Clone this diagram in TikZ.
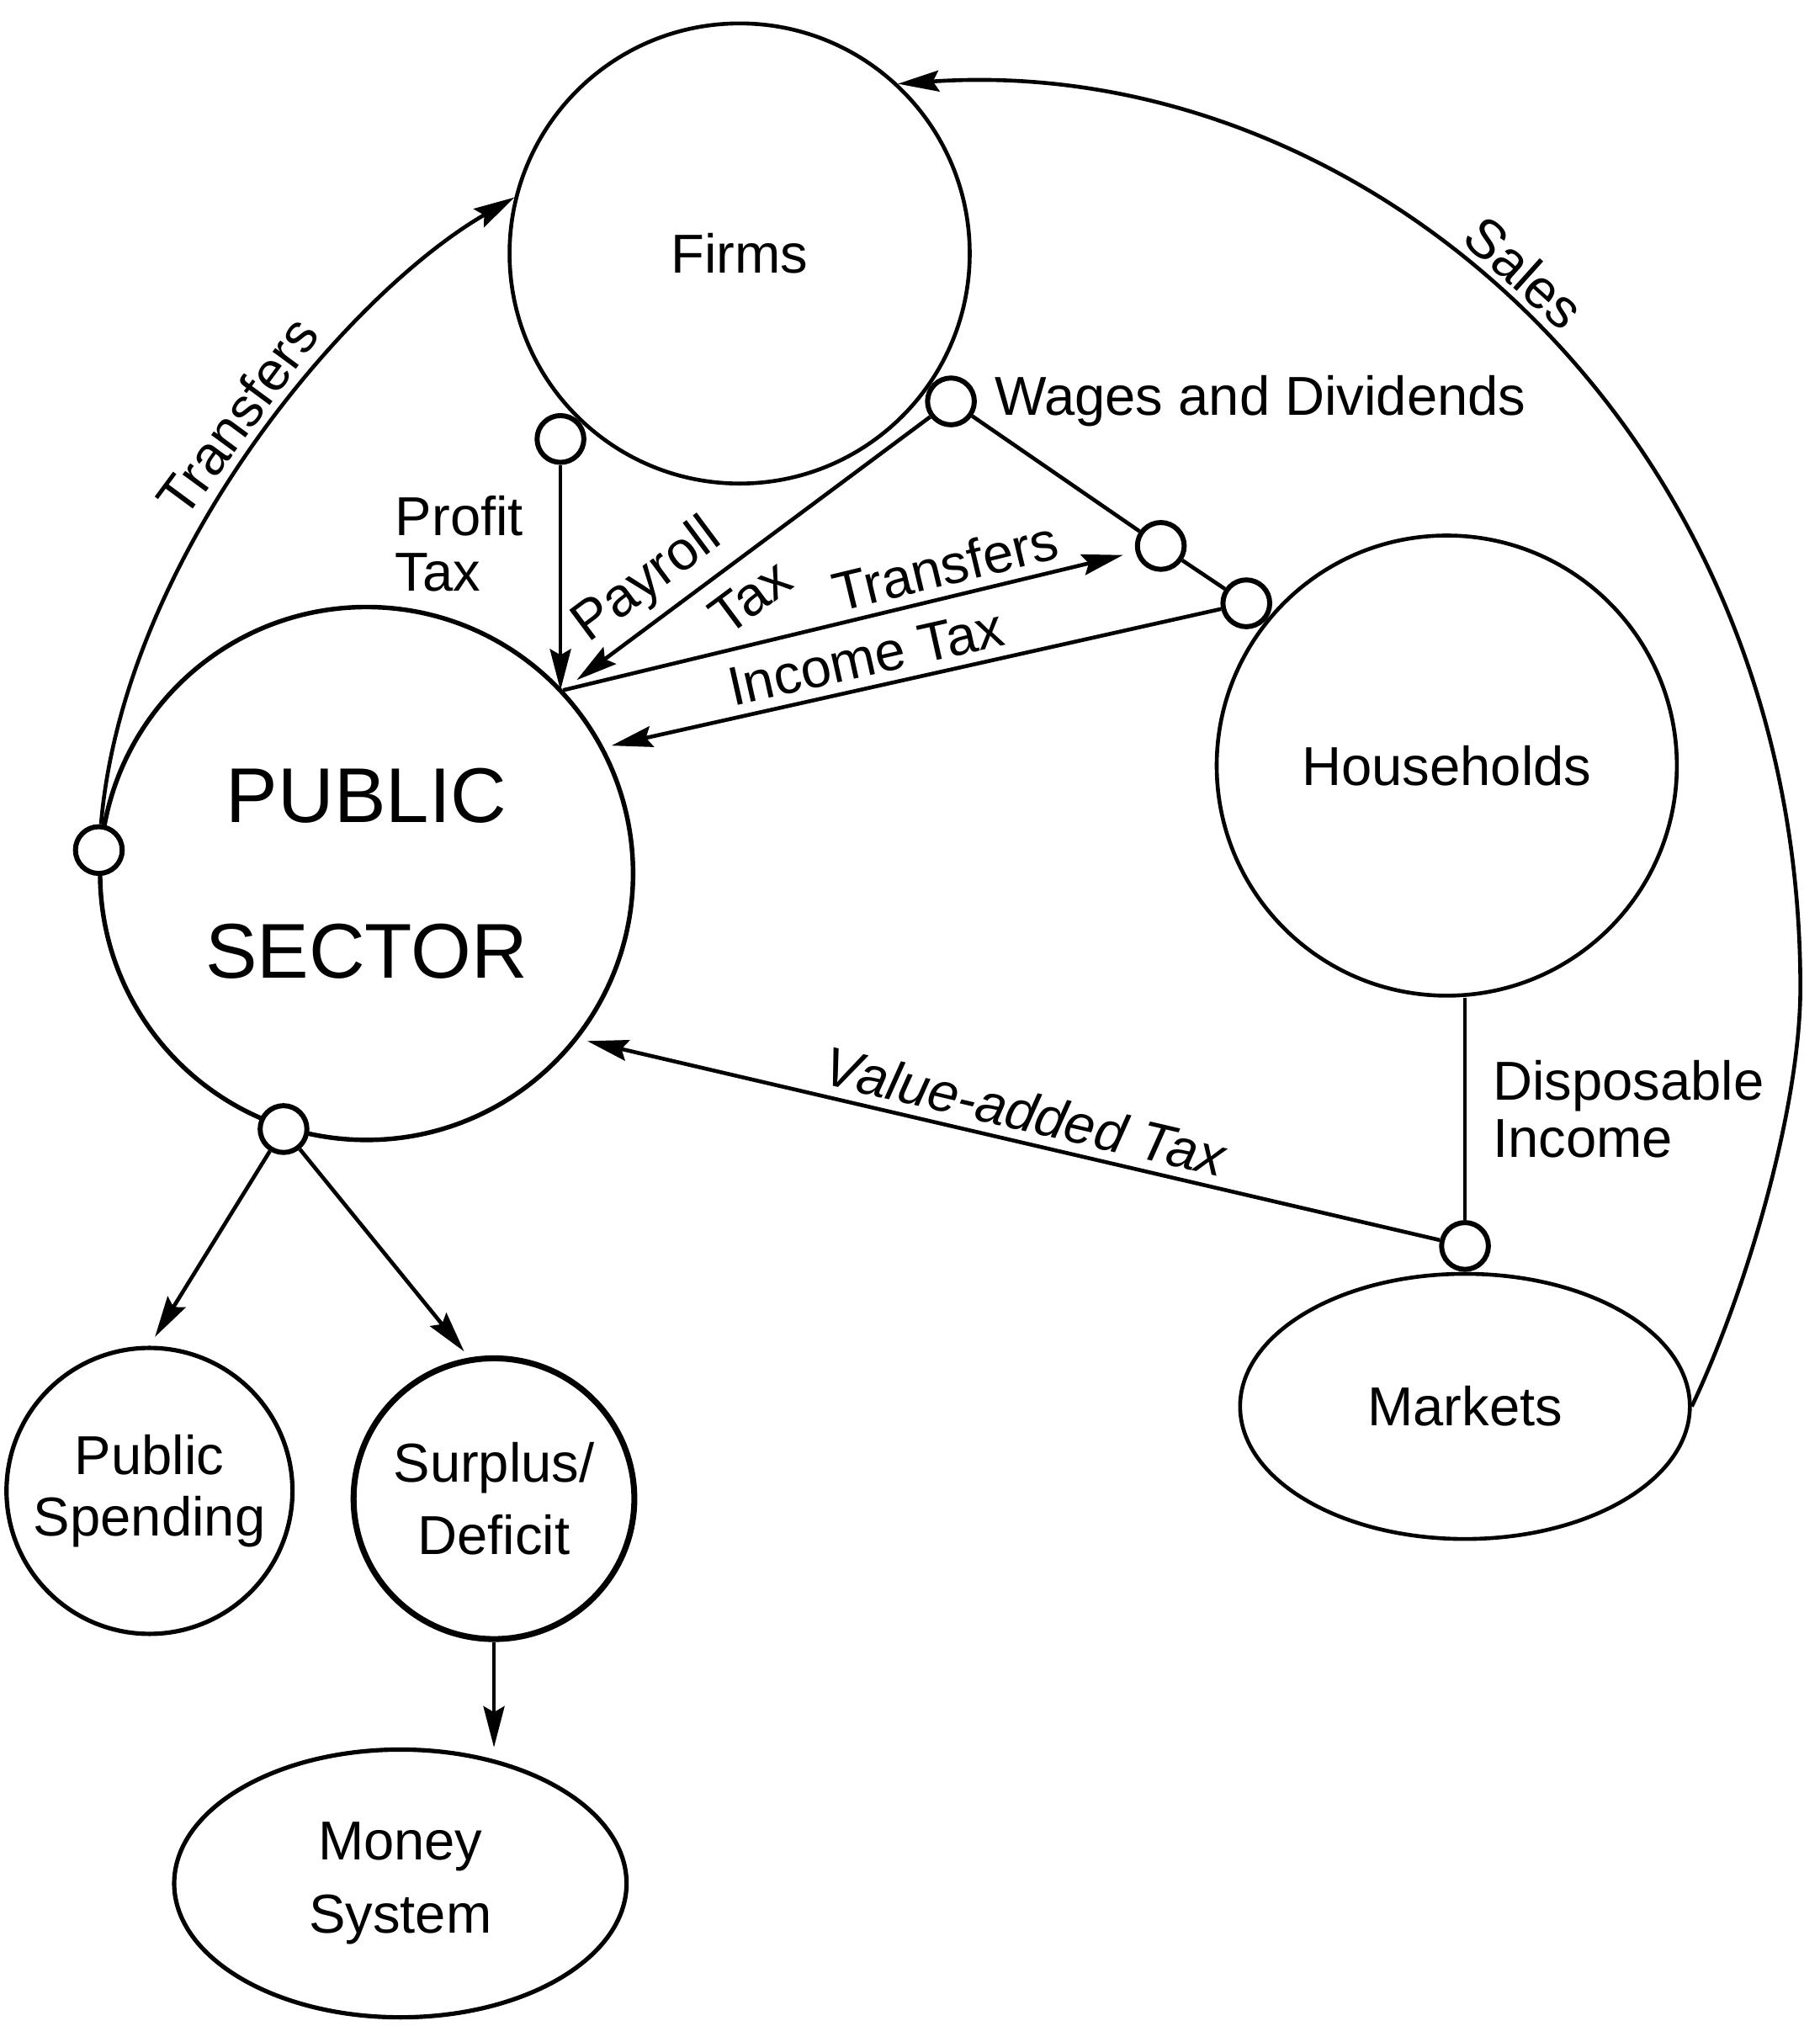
\documentclass[tikz,border=0pt]{standalone}
\usepackage{fontspec}
\setmainfont{Liberation Sans}
\usetikzlibrary{shapes.geometric,arrows.meta}

\begin{document}
\begin{tikzpicture}[x=0.1mm,y=-0.1mm,
    every node/.style={font=\fontsize{12}{13.5}\selectfont,inner sep=2pt},
    agent/.style={draw,line width=0.85pt,inner sep=0pt,align=center},
    jn/.style={draw,circle,fill=white,minimum size=3.6mm,inner sep=0pt,line width=1.1pt},
    link/.style={line width=0.85pt},
    flow/.style={link,-{Stealth[length=9pt,width=4.6pt,inset=1.3pt]}}]
\useasboundingbox (0,0) rectangle (1400,1571);

\node[agent,circle,minimum size=35.4mm] (firms) at (569,195) {Firms};
\node[agent,circle,minimum size=35.4mm] (hh) at (1113,589) {Households};
\node[agent,circle,minimum size=41mm,line width=1pt,
      font=\fontsize{17}{34}\selectfont] (ps) at (282,672) {PUBLIC\\SECTOR};
\node[agent,ellipse,minimum width=34.6mm,minimum height=20.4mm] (mk) at (1127,1082) {Markets};
\node[agent,circle,minimum size=22mm,line width=0.95pt] (psp) at (115,1147) {Public\\Spending};
\node[agent,circle,minimum size=21.6mm,line width=1.3pt,
      font=\fontsize{12}{16}\selectfont] (sd) at (380,1153) {Surplus/\\Deficit};
\node[agent,ellipse,minimum width=34.8mm,minimum height=20.6mm,line width=0.95pt,
      font=\fontsize{12}{16}\selectfont] (ms) at (308,1449) {Money\\System};

\node[jn] (jpl) at (ps.175) {};
\node[jn] (jps) at (ps.252) {};
\node[jn,anchor=46] (jpt) at (firms.226) {};
\node[jn,anchor=145] (jwd) at (firms.-35) {};
\node[jn] (jmid) at (893,420) {};
\node[jn,anchor=-39] (jhh) at (hh.141) {};
\node[jn,anchor=south] (jmk) at (mk.north) {};

\draw[flow] (jpl) .. controls (95,430) and (266,227) .. (firms.166)
    node[pos=0.52,sloped,above] (ltl) {Transfers};
\draw[flow] (mk.east) .. controls (1345,990) and (1385,850) .. (1385,760)
    .. controls (1385,330) and (1050,40) .. (firms.47)
    node[pos=0.52,sloped,above] (lsa) {Sales};
\draw[flow] (jpt) -- (jpt |- ps.43)
    node[pos=0.35,left,align=left,xshift=-2mm,font=\fontsize{12}{12}\selectfont] (lpt) {Profit\\Tax};
\draw[flow,shorten >=1.3mm] (jwd) -- (ps.43)
    node[pos=0.71,sloped,above] (lpr) {Payroll}
    node[pos=0.55,sloped,below=1.5pt] (lpx) {Tax};
\draw[link] (jwd) -- (jmid) (jmid) -- (jhh);
\node[right,xshift=0.6mm] (lwd) at (jwd.east) {Wages and Dividends};
\draw[flow,shorten >=1mm] (ps.43) -- (jmid)
    node[pos=0.68,sloped,above] (ltr) {Transfers};
\draw[flow,shorten >=0.6mm] (jhh) -- (ps.28)
    node[pos=0.565,sloped,above] (lit) {Income Tax};
\draw[flow,shorten >=0.7mm] (jmk) -- (ps.-38)
    node[pos=0.49,sloped,above] (lvt) {\itshape Value-added Tax};
\draw[link] (jmk) -- (jmk |- hh.south)
    node[midway,right,align=left,xshift=1.3mm,font=\fontsize{12}{12.5}\selectfont] (ldi) {Disposable\\Income};
\draw[flow,shorten >=0.8mm] (jps) -- (psp.north);
\draw[flow,shorten >=0.6mm] (jps) -- (sd.100);
\draw[flow] (sd) -- (sd |- ms.north);
\end{tikzpicture}
\end{document}
